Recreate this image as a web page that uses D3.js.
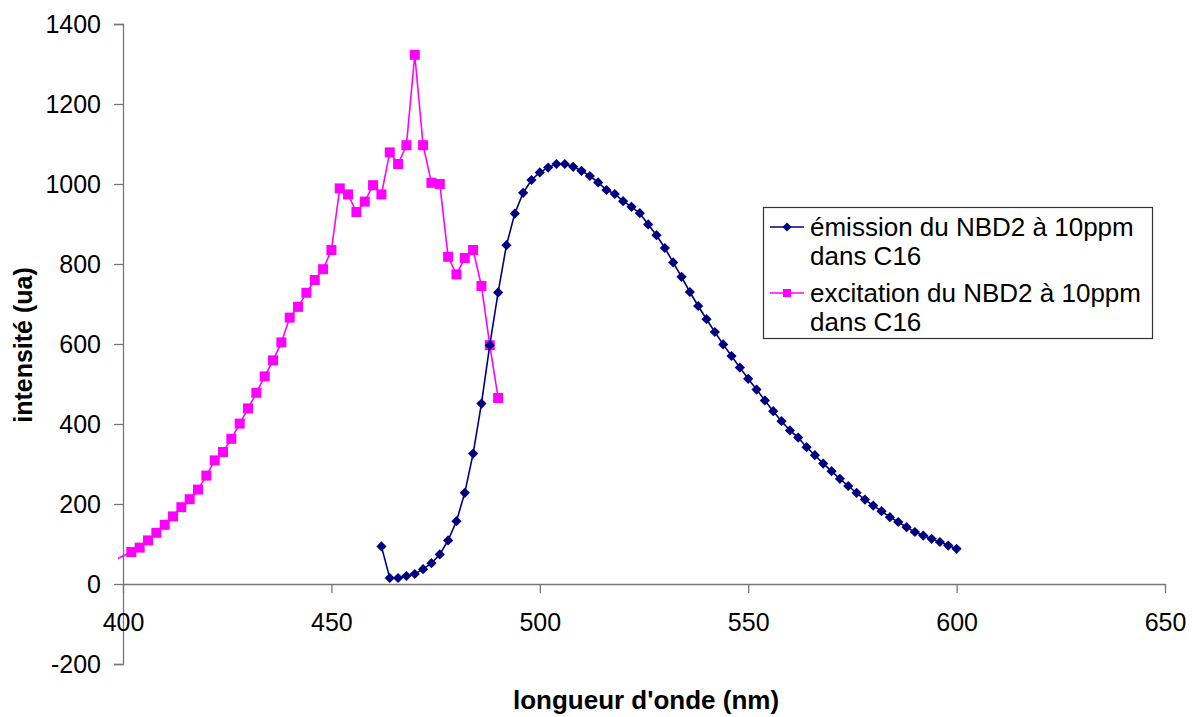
<!DOCTYPE html>
<html>
<head>
<meta charset="utf-8">
<script src="https://cdn.jsdelivr.net/npm/d3@7"></script>
<style>
  body { margin: 0; background: #fff; }
  svg { font-family: "Liberation Sans", Arial, sans-serif; }
</style>
</head>
<body>
<div id="chart"></div>
<script>
// emission series, 462 -> 600 nm, step 2
const emissionNm = d3.range(462, 601, 2);
const emissionVal = [94, 15, 15, 20, 25, 37, 52, 74, 109, 157,
  228, 326, 451, 597, 729, 847, 926, 978, 1010, 1029,
  1041, 1050, 1050, 1043, 1033, 1020, 1004, 985, 975, 957,
  943, 927, 899, 872, 840, 804, 768, 730, 695, 662,
  630, 599, 570, 541, 513, 486, 459, 432, 407, 384,
  366, 342, 322, 301, 282, 263, 245, 228, 211, 196,
  182, 167, 155, 142, 130, 121, 113, 105, 96, 88];

// excitation series: one point left of the axis (only its line shows), then 402 -> 490 nm
const excitationNm = [398].concat(d3.range(402, 491, 2));
const excitationVal = [60, 80, 91, 109, 128, 148, 169, 192, 212, 236,
  271, 309, 330, 363, 401, 439, 478, 519, 559, 604,
  666, 693, 728, 760, 787, 835, 989, 974, 930, 956,
  997, 974, 1079, 1050, 1097, 1323, 1097, 1003, 1000, 818,
  774, 815, 835, 745, 597, 465];

const xTicks = [400, 450, 500, 550, 600, 650];
const yTicks = [-200, 0, 200, 400, 600, 800, 1000, 1200, 1400];

const seriesNames = ["émission du NBD2 à 10ppm dans C16", "excitation du NBD2 à 10ppm dans C16"];

const width = 1192, height = 717;
const svg = d3.select("#chart").append("svg")
  .attr("width", width).attr("height", height);

const x = d3.scaleLinear().domain([400, 650]).range([123, 1165]);
const y = d3.scaleLinear().domain([-200, 1400]).range([664, 24]);

const axisColor = "#777";

// clip regions (line bleeds a little past the y axis like the original)
const defs = svg.append("defs");
defs.append("clipPath").attr("id", "clipLine").append("rect")
  .attr("x", 118).attr("y", 20).attr("width", 1060).attr("height", 650);
defs.append("clipPath").attr("id", "clipMark").append("rect")
  .attr("x", 123).attr("y", 20).attr("width", 1060).attr("height", 650);

// y axis
const yAxis = svg.append("g")
  .attr("transform", "translate(" + x(400) + ",0)")
  .call(d3.axisLeft(y).tickValues(yTicks).tickSize(9).tickPadding(13).tickFormat(d => String(d)));
yAxis.select(".domain").attr("stroke", axisColor).attr("stroke-width", 1.3);
yAxis.selectAll(".tick line").attr("stroke", axisColor).attr("stroke-width", 1.3);
yAxis.selectAll(".tick text").attr("font-size", 25).attr("fill", "#000")
  .attr("font-family", "Liberation Sans, Arial, sans-serif");

// x axis at y = 0
const xAxis = svg.append("g")
  .attr("transform", "translate(0," + y(0) + ")")
  .call(d3.axisBottom(x).tickValues(xTicks).tickSize(9).tickSizeOuter(0).tickPadding(20));
xAxis.select(".domain").attr("stroke", axisColor).attr("stroke-width", 1.3);
xAxis.selectAll(".tick line").attr("stroke", axisColor).attr("stroke-width", 1.3);
xAxis.selectAll(".tick text").attr("font-size", 25).attr("fill", "#000")
  .attr("font-family", "Liberation Sans, Arial, sans-serif");

// axis titles
svg.append("text")
  .attr("x", 646).attr("y", 709)
  .attr("text-anchor", "middle")
  .attr("font-size", 26).attr("font-weight", "bold")
  .text("longueur d'onde (nm)");

svg.append("text")
  .attr("transform", "translate(32,345) rotate(-90)")
  .attr("text-anchor", "middle")
  .attr("font-size", 25).attr("font-weight", "bold")
  .text("intensité (ua)");

const line = d3.line().x(d => x(d[0])).y(d => y(d[1]));

const emission = d3.zip(emissionNm, emissionVal);
const excitation = d3.zip(excitationNm, excitationVal);

const navy = "#000080", magenta = "#FF00FF";

// excitation (drawn first, emission on top)
svg.append("path").datum(excitation)
  .attr("clip-path", "url(#clipLine)")
  .attr("fill", "none").attr("stroke", magenta).attr("stroke-width", 1.6)
  .attr("d", line);
svg.append("g").attr("clip-path", "url(#clipMark)")
  .selectAll("rect").data(excitation).enter().append("rect")
  .attr("x", d => x(d[0]) - 5).attr("y", d => y(d[1]) - 5)
  .attr("width", 10).attr("height", 10)
  .attr("fill", magenta);

svg.append("path").datum(emission)
  .attr("fill", "none").attr("stroke", navy).attr("stroke-width", 1.6)
  .attr("d", line);
svg.append("g").selectAll("path").data(emission).enter().append("path")
  .attr("transform", d => "translate(" + x(d[0]) + "," + y(d[1]) + ") rotate(45)")
  .attr("d", d3.symbol().type(d3.symbolSquare).size(52))
  .attr("fill", navy);

// legend
const legend = svg.append("g");
legend.append("rect")
  .attr("x", 763.5).attr("y", 207.5).attr("width", 389).attr("height", 131)
  .attr("fill", "#fff").attr("stroke", "#333").attr("stroke-width", 1.2);

const legendRows = [
  {name: seriesNames[0], color: navy, shape: "diamond", y: 227},
  {name: seriesNames[1], color: magenta, shape: "square", y: 293}
];
legendRows.forEach(r => {
  const g = legend.append("g");
  g.append("line").attr("x1", 770).attr("x2", 804).attr("y1", r.y).attr("y2", r.y)
    .attr("stroke", r.color).attr("stroke-width", 1.6);
  if (r.shape === "diamond") {
    g.append("path").attr("transform", "translate(787," + r.y + ") rotate(45)")
      .attr("d", d3.symbol().type(d3.symbolSquare).size(40)).attr("fill", r.color);
  } else {
    g.append("rect").attr("x", 783).attr("y", r.y - 4).attr("width", 8).attr("height", 8)
      .attr("fill", r.color);
  }
  const words = r.name.split(" dans ");
  const t = g.append("text").attr("x", 810).attr("y", r.y + 9).attr("font-size", 26);
  t.append("tspan").attr("x", 810).text(words[0]);
  t.append("tspan").attr("x", 810).attr("dy", 29).text("dans " + words[1]);
});
</script>
</body>
</html>
